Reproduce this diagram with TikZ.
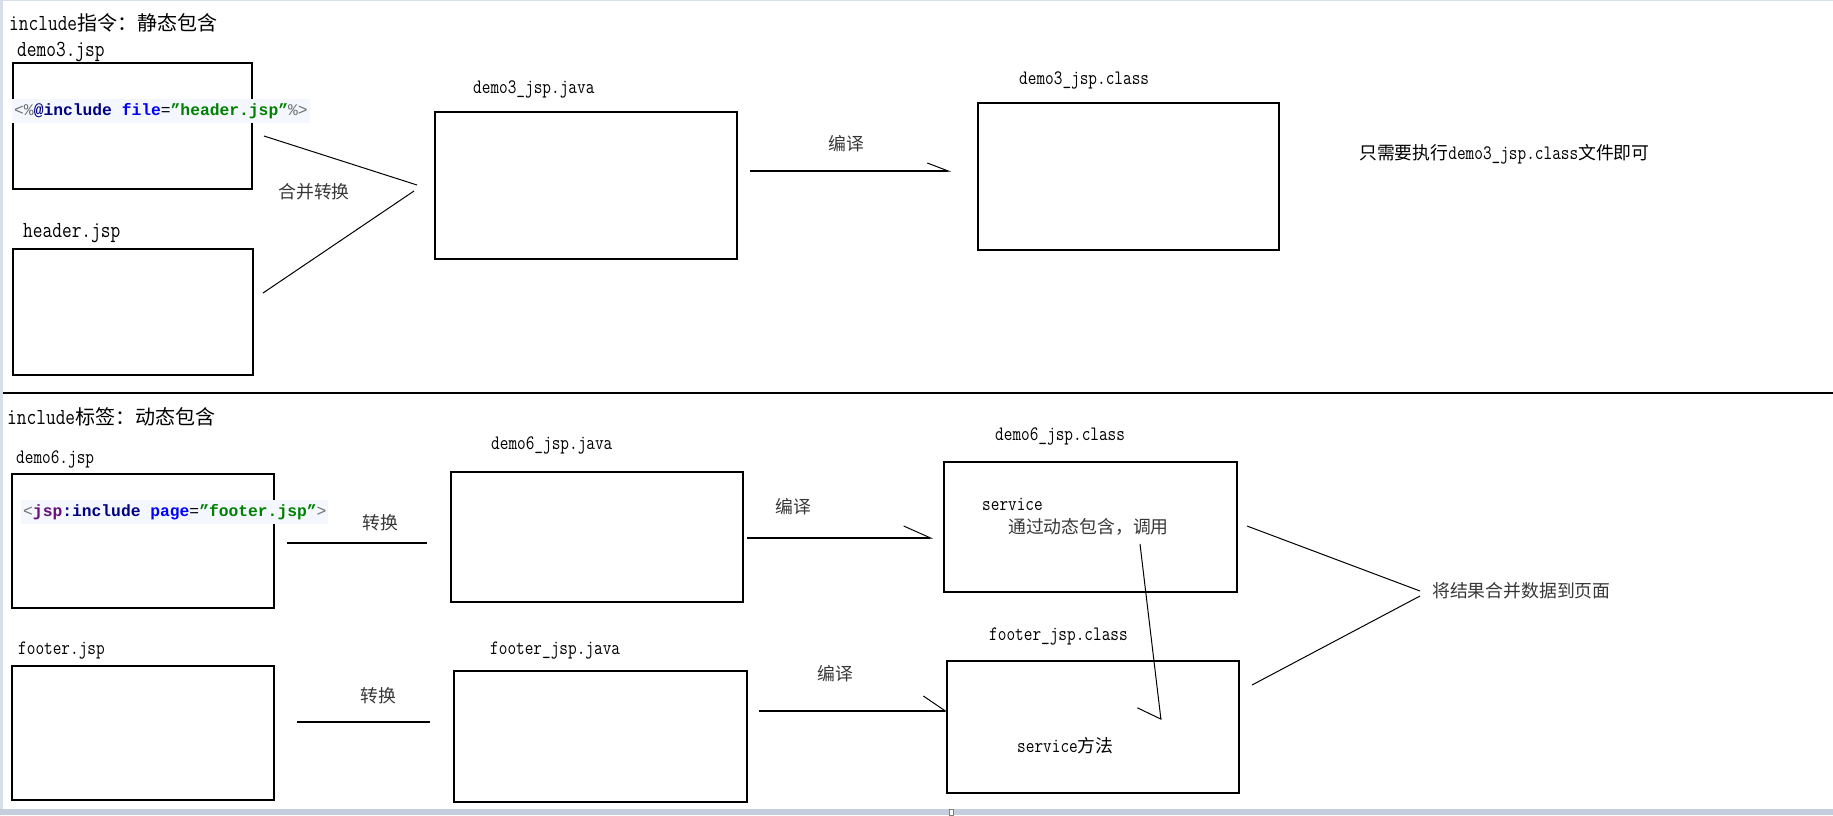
\documentclass[tikz,border=0pt]{standalone}
\usepackage{fontspec}
\usepackage{tikz}
\usetikzlibrary{arrows.meta}
\setmonofont{Latin Modern Mono}[FakeStretch=0.82]
\newfontfamily\cjk{Noto Sans CJK SC}[Scale=0.87]
\newfontfamily\codefont{Liberation Mono}
\newcommand{\zh}[1]{{\cjk #1}}
\definecolor{codenavy}{RGB}{0,0,128}
\definecolor{codeblue}{RGB}{0,0,255}
\definecolor{codegreen}{RGB}{0,128,0}
\definecolor{codepurple}{RGB}{102,14,122}
\definecolor{codegray}{RGB}{110,110,110}
\definecolor{hilite}{RGB}{244,248,254}
\definecolor{framegray}{RGB}{214,222,234}
\definecolor{framedark}{RGB}{196,206,222}
\definecolor{zhtext}{RGB}{55,55,55}
\tikzstyle{filebox} = [rectangle, draw=black, line width=1.5pt, inner sep=0pt]
\tikzstyle{lbl} = [anchor=west, inner sep=0pt, font=\fontsize{20.5pt}{24pt}\selectfont\ttfamily]
\tikzstyle{biglbl} = [anchor=west, inner sep=0pt, font=\fontsize{23pt}{27pt}\selectfont\ttfamily]
\tikzstyle{zhlbl} = [inner sep=0pt, text=zhtext, font=\fontsize{20.5pt}{24pt}\selectfont\cjk]
\tikzstyle{heading} = [anchor=west, inner sep=0pt, font=\fontsize{23pt}{27pt}\selectfont\ttfamily]
\tikzstyle{code} = [anchor=west, fill=hilite, inner xsep=2pt, inner ysep=0pt, minimum height=24pt, font=\fontsize{16.3pt}{19pt}\selectfont\codefont]
\tikzstyle{link} = [line width=1.6pt]
\tikzstyle{thinlink} = [line width=1pt]

\begin{document}
\begin{tikzpicture}[x=1pt, y=-1pt]
    \useasboundingbox (0,0) rectangle (1833,815);
    % window edges
    \fill[framegray] (0,0) rectangle (3,815);
    \fill[framegray] (0,0) rectangle (1833,1);
    \fill[framedark] (0,809) rectangle (1833,815);
    \node[draw=gray, fill=white, inner sep=0pt, minimum width=4pt, minimum height=6pt] (grip) at (951,812) {};

    % Static include
    \node[heading] (title1) at (9,23) {include\zh{指令：静态包含}};
    \node[biglbl] (ldemo3) at (17,52) {demo3.jsp};
    \node[filebox, minimum width=239pt, minimum height=126pt] (demo3) at (132.5,126) {};
    \node[code] (code1) at (12,111) {\textcolor{codegray}{<\%}\textbf{\textcolor{codenavy}{@include}} \textbf{\textcolor{codeblue}{file}}=\textbf{\textcolor{codegreen}{”header.jsp”}}\textcolor{codegray}{\%>}};
    \node[biglbl] (lheader) at (23,233) {header.jsp};
    \node[filebox, minimum width=240pt, minimum height=126pt] (header) at (133,312) {};
    \node[zhlbl] (merge) at (314,192) {合并转换};
    \node[lbl] (ljava3) at (473,89) {demo3\_jsp.java};
    \node[filebox, minimum width=302pt, minimum height=147pt] (java3) at (586,185.5) {};
    \node[zhlbl] (compile3) at (846,144) {编译};
    \node[lbl] (lclass3) at (1019,80) {demo3\_jsp.class};
    \node[filebox, minimum width=301pt, minimum height=147pt] (class3) at (1128.5,176.5) {};
    \node[lbl] (note3) at (1359,154) {\zh{只需要执行}demo3\_jsp.class\zh{文件即可}};

    \coordinate (m1) at (264,136);
    \coordinate (m2) at (263,293);
    \coordinate (m3) at (417,185);
    \coordinate (m4) at (414,191);
    \draw[thinlink] (m1) -- (m3);
    \draw[thinlink] (m2) -- (m4);
    \coordinate (c3a) at (750,171);
    \coordinate (c3b) at (951,171);
    \draw[link, -{Straight Barb[left, length=21pt, width=16pt, line width=1pt]}] (c3a) -- (c3b);

    % divider
    \coordinate (d1) at (3,393);
    \coordinate (d2) at (1833,393);
    \draw[link] (d1) -- (d2);

    % Dynamic include
    \node[heading] (title2) at (7,417) {include\zh{标签：动态包含}};
    \node[lbl] (ldemo6) at (16,459) {demo6.jsp};
    \node[filebox, minimum width=262pt, minimum height=134pt] (demo6) at (143,541) {};
    \node[code] (code2) at (21,512) {\textcolor{codegray}{<}\textbf{\textcolor{codepurple}{jsp}\textcolor{codenavy}{:include}} \textbf{\textcolor{codeblue}{page}}=\textbf{\textcolor{codegreen}{”footer.jsp”}}\textcolor{codegray}{>}};
    \node[zhlbl] (conv6) at (380,523) {转换};
    \node[lbl] (ljava6) at (491,445) {demo6\_jsp.java};
    \node[filebox, minimum width=292pt, minimum height=130pt] (java6) at (597,537) {};
    \node[zhlbl] (compile6) at (793,507) {编译};
    \node[lbl] (lclass6) at (995,436) {demo6\_jsp.class};
    \node[filebox, minimum width=293pt, minimum height=130pt] (class6) at (1090.5,527) {};
    \node[lbl] (service6) at (982,504) {service};
    \node[zhlbl, anchor=west] (call) at (1008,527) {通过动态包含，调用};

    \node[lbl] (lfooter) at (18,650) {footer.jsp};
    \node[filebox, minimum width=262pt, minimum height=134pt] (footer) at (143,733) {};
    \node[zhlbl] (convf) at (378,696) {转换};
    \node[lbl] (lfooterjava) at (490,650) {footer\_jsp.java};
    \node[filebox, minimum width=293pt, minimum height=131pt] (footerjava) at (600.5,736.5) {};
    \node[zhlbl] (compilef) at (835,674) {编译};
    \node[lbl] (lfooterclass) at (989,636) {footer\_jsp.class};
    \node[filebox, minimum width=292pt, minimum height=132pt] (footerclass) at (1093,727) {};
    \node[lbl] (servicef) at (1017,746) {service\zh{方法}};
    \node[zhlbl, anchor=west] (result) at (1432,591) {将结果合并数据到页面};

    \coordinate (t6a) at (287,543);
    \coordinate (t6b) at (427,543);
    \draw[link] (t6a) -- (t6b);
    \coordinate (c6a) at (747,538);
    \coordinate (c6b) at (933,538);
    \draw[link, -{Straight Barb[left, length=27pt, width=24pt, line width=1pt]}] (c6a) -- (c6b);
    \coordinate (tfa) at (297,722);
    \coordinate (tfb) at (430,722);
    \draw[link] (tfa) -- (tfb);
    \coordinate (cfa) at (759,711);
    \coordinate (cfb) at (947,711);
    \draw[link, -{Straight Barb[left, length=22pt, width=30pt, line width=1pt]}] (cfa) -- (cfb);
    \coordinate (k1) at (1140,544);
    \coordinate (k2) at (1161,720);
    \draw[thinlink, -{Straight Barb[right, length=14pt, width=44pt, line width=1pt]}] (k1) -- (k2);
    \coordinate (r1) at (1247,526);
    \coordinate (r2) at (1252,685);
    \coordinate (r3) at (1420,591);
    \coordinate (r4) at (1420,596);
    \draw[thinlink] (r1) -- (r3);
    \draw[thinlink] (r2) -- (r4);
\end{tikzpicture}
\end{document}
